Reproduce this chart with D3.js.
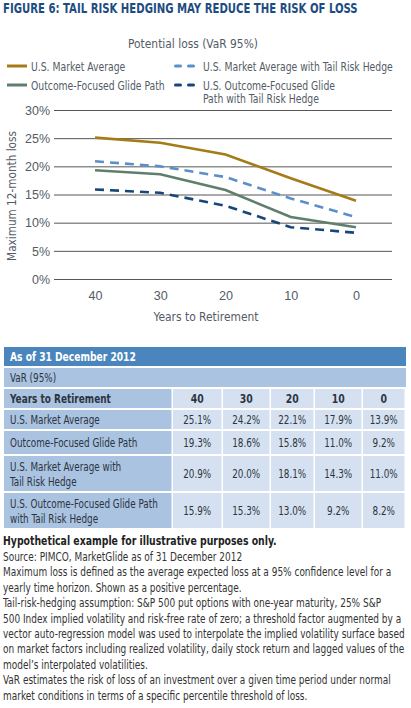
<!DOCTYPE html>
<html>
<head>
<meta charset="utf-8">
<script src="https://cdn.jsdelivr.net/npm/d3@7"></script>
<style>
  body { margin: 0; background: #fff; }
  svg { display: block; font-family: "DejaVu Sans Condensed", "Liberation Sans", sans-serif; }
</style>
</head>
<body>
<svg id="chart" width="411" height="708"></svg>
<script>
// data
const years = [40, 30, 20, 10, 0];
const usMarket = [25.1, 24.2, 22.1, 17.9, 13.9];
const glidePath = [19.3, 18.6, 15.8, 11.0, 9.2];
const usMarketHedge = [20.9, 20.0, 18.1, 14.3, 11.0];
const glidePathHedge = [15.9, 15.3, 13.0, 9.2, 8.2];
const yTicks = [0, 5, 10, 15, 20, 25, 30];

const seriesValues = [usMarket, glidePath, usMarketHedge, glidePathHedge];

const notes = [
  "Source: PIMCO, MarketGlide as of 31 December 2012",
  "Maximum loss is defined as the average expected loss at a 95% confidence level for a",
  "yearly time horizon. Shown as a positive percentage.",
  "Tail-risk-hedging assumption: S&P 500 put options with one-year maturity, 25% S&P",
  "500 Index implied volatility and risk-free rate of zero; a threshold factor augmented by a",
  "vector auto-regression model was used to interpolate the implied volatility surface based",
  "on market factors including realized volatility, daily stock return and lagged values of the",
  "model\u2019s interpolated volatilities.",
  "VaR estimates the risk of loss of an investment over a given time period under normal",
  "market conditions in terms of a specific percentile threshold of loss."
];

const colors = ["#a57b17", "#5f7f6c", "#5b8fca", "#17467a"];
const dashes = [null, null, "9,6", "9,6"];
const textGray = "#535c66";

const svg = d3.select("#chart");

// the original uses a condensed face; squeeze each group horizontally so a reference text gets its width
function fit(sel, refNode, target) {
  const f = target / refNode.getComputedTextLength();
  sel.each(function () {
    const t = d3.select(this);
    const tx = +t.attr("x") || 0, ty = +t.attr("y") || 0;
    const pre = t.attr("transform") || "";
    t.attr("x", 0).attr("y", 0)
      .attr("transform", `${pre} translate(${tx},${ty}) scale(${f},1)`);
  });
}

// title
const title = svg.append("text")
  .attr("x", 3).attr("y", 13)
  .attr("font-size", 14.5).attr("font-weight", "bold")
  .attr("fill", "#1d4c82")
  .text("FIGURE 6: TAIL RISK HEDGING MAY REDUCE THE RISK OF LOSS");
fit(title, title.node(), 355);

// legend
const legTitle = svg.append("text")
  .attr("x", 193).attr("y", 48)
  .attr("text-anchor", "middle")
  .attr("font-size", 13).attr("fill", textGray)
  .text("Potential loss (VaR 95%)");

const legendPos = [
  { x: 7, y: 66, lines: ["U.S. Market Average"] },
  { x: 7, y: 85, lines: ["Outcome-Focused Glide Path"] },
  { x: 174, y: 66, lines: ["U.S. Market Average with Tail Risk Hedge"] },
  { x: 174, y: 85, lines: ["U.S. Outcome-Focused Glide", "Path with Tail Risk Hedge"] }
];

legendPos.forEach((p, i) => {
  const g = svg.append("g").attr("transform", `translate(${p.x},${p.y})`);
  const dashed = dashes[i] != null;
  g.append("line")
    .attr("x1", 0).attr("x2", dashed ? 24 : 20).attr("y1", 0).attr("y2", 0)
    .attr("stroke", colors[i]).attr("stroke-width", 3)
    .attr("stroke-linecap", dashed ? "round" : "butt")
    .attr("stroke-dasharray", dashed ? "5,8" : null)
    .attr("transform", dashed ? "translate(1.5,0)" : null);
  p.lines.forEach((t, j) => {
    g.append("text")
      .attr("class", "legItem")
      .attr("x", dashed ? 29 : 24).attr("y", 4.5 + j * 13)
      .attr("font-size", 13).attr("fill", textGray)
      .text(t);
  });
});
const legItems = svg.selectAll(".legItem");
fit(legItems, legItems.nodes()[2], 190);
fit(legTitle, legTitle.node(), 130);

// chart
const x = d3.scalePoint().domain(years).range([95, 356]);
const y = d3.scaleLinear().domain([0, 30]).range([279, 110]);

const yAxis = d3.axisLeft(y).tickValues(yTicks)
  .tickFormat(d => d + "%").tickSize(-338).tickPadding(4);
const yG = svg.append("g").attr("transform", "translate(54,0)").call(yAxis);
yG.select(".domain").remove();
yG.selectAll(".tick line").attr("stroke", "#555").attr("stroke-width", 1);
yG.selectAll(".tick text")
  .attr("x", -4).attr("fill", textGray)
  .attr("font-size", 13).attr("font-family", null);
fit(yG.selectAll(".tick text"), yG.selectAll(".tick text").nodes()[6], 25);

const xAxis = d3.axisBottom(x).tickSize(0).tickPadding(0);
const xG = svg.append("g").attr("transform", "translate(0,291)").call(xAxis);
xG.select(".domain").remove();
xG.selectAll(".tick text")
  .attr("fill", textGray).attr("font-size", 12.5).attr("font-family", null);
fit(xG.selectAll(".tick text"), xG.selectAll(".tick text").nodes()[0], 14);

const xTitle = svg.append("text")
  .attr("x", 206).attr("y", 321)
  .attr("text-anchor", "middle")
  .attr("font-size", 13).attr("fill", textGray)
  .text("Years to Retirement");
fit(xTitle, xTitle.node(), 105);

const yTitle = svg.append("text")
  .attr("transform", "translate(16,196) rotate(-90)")
  .attr("text-anchor", "middle")
  .attr("font-size", 13).attr("fill", textGray)
  .text("Maximum 12-month loss");
fit(yTitle, yTitle.node(), 130);

const line = d3.line()
  .x((d, i) => x(years[i]))
  .y(d => y(d));

[3, 2, 1, 0].forEach(i => {
  svg.append("path")
    .datum(seriesValues[i])
    .attr("d", line)
    .attr("fill", "none")
    .attr("stroke", colors[i])
    .attr("stroke-width", 2.6)
    .attr("stroke-dasharray", dashes[i]);
});

// table
const colX = [4, 173, 223, 271, 315, 363, 406];
const tableRows = [
  { label: ["U.S. Market Average"], vals: usMarket, y0: 410, y1: 429 },
  { label: ["Outcome-Focused Glide Path"], vals: glidePath, y0: 431, y1: 454 },
  { label: ["U.S. Market Average with", "Tail Risk Hedge"], vals: usMarketHedge, y0: 456, y1: 491 },
  { label: ["U.S. Outcome-Focused Glide Path", "with Tail Risk Hedge"], vals: glidePathHedge, y0: 493, y1: 528 }
];
const headBlue = "#4a86bd";
const midBlue = "#a9c3e1";
const lightBlue = "#d5e1f0";
const tableText = "#2d3440";

const tg = svg.append("g");
tg.append("rect").attr("x", 4).attr("y", 347).attr("width", 402).attr("height", 19).attr("fill", headBlue);
const asOf = tg.append("text").attr("x", 10).attr("y", 361)
  .attr("font-size", 13).attr("font-weight", "bold").attr("fill", "#fff")
  .text("As of 31 December 2012");
fit(asOf, asOf.node(), 126);

tg.append("rect").attr("x", 4).attr("y", 368).attr("width", 402).attr("height", 19).attr("fill", midBlue);
tg.append("text").attr("class", "tbl").attr("x", 10).attr("y", 382)
  .attr("font-size", 13).attr("fill", tableText)
  .text("VaR (95%)");

// header row
const headRow = { y0: 389, y1: 408 };
tg.append("rect").attr("x", colX[0]).attr("y", headRow.y0)
  .attr("width", colX[1] - colX[0] - 1.5).attr("height", headRow.y1 - headRow.y0).attr("fill", midBlue);
const yrsHead = tg.append("text").attr("x", 10).attr("y", headRow.y1 - 5)
  .attr("font-size", 13).attr("font-weight", "bold").attr("fill", tableText)
  .text("Years to Retirement");
fit(yrsHead, yrsHead.node(), 101);
years.forEach((yr, c) => {
  tg.append("rect").attr("x", colX[c + 1]).attr("y", headRow.y0)
    .attr("width", colX[c + 2] - colX[c + 1] - 1.5).attr("height", headRow.y1 - headRow.y0).attr("fill", lightBlue);
  tg.append("text").attr("x", (colX[c + 1] + colX[c + 2] - 1.5) / 2).attr("y", headRow.y1 - 5)
    .attr("class", "tblHead")
    .attr("text-anchor", "middle")
    .attr("font-size", 13).attr("font-weight", "bold").attr("fill", tableText)
    .text(yr);
});
fit(tg.selectAll(".tblHead"), tg.selectAll(".tblHead").nodes()[0], 13);

tableRows.forEach(r => {
  const h = r.y1 - r.y0;
  const mid = (r.y0 + r.y1) / 2;
  tg.append("rect").attr("x", colX[0]).attr("y", r.y0)
    .attr("width", colX[1] - colX[0] - 1.5).attr("height", h).attr("fill", midBlue);
  r.label.forEach((t, j) => {
    tg.append("text").attr("class", "tbl").attr("x", 10)
      .attr("y", mid + 4.5 + (j - (r.label.length - 1) / 2) * 15)
      .attr("font-size", 13).attr("fill", tableText)
      .text(t);
  });
  r.vals.forEach((v, c) => {
    tg.append("rect").attr("x", colX[c + 1]).attr("y", r.y0)
      .attr("width", colX[c + 2] - colX[c + 1] - 1.5).attr("height", h).attr("fill", lightBlue);
    tg.append("text").attr("class", "tbl").attr("x", (colX[c + 1] + colX[c + 2] - 1.5) / 2).attr("y", mid + 4.5)
      .attr("text-anchor", "middle")
      .attr("font-size", 13).attr("fill", tableText)
      .text(v.toFixed(1) + "%");
  });
});
const tblTexts = tg.selectAll(".tbl");
fit(tblTexts, tblTexts.filter((d, i, n) => n[i].textContent === "U.S. Outcome-Focused Glide Path").node(), 148);

// notes
const hypo = svg.append("text").attr("x", 3).attr("y", 545)
  .attr("font-size", 13).attr("font-weight", "bold").attr("fill", "#222")
  .text("Hypothetical example for illustrative purposes only.");
fit(hypo, hypo.node(), 274);
notes.forEach((t, i) => {
  svg.append("text").attr("class", "note").attr("x", 3).attr("y", 561 + i * 15.4)
    .attr("font-size", 13).attr("fill", "#333")
    .text(t);
});
const noteTexts = svg.selectAll(".note");
fit(noteTexts, noteTexts.nodes()[5], 402);
</script>
</body>
</html>
